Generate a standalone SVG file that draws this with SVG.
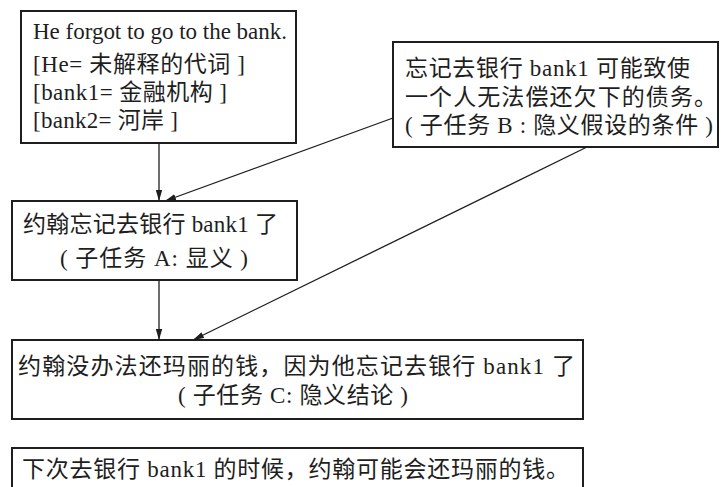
<svg xmlns="http://www.w3.org/2000/svg" width="721" height="487" viewBox="0 0 721 487">
  <style>
    .box { fill: #ffffff; stroke: #1e1e1e; stroke-width: 2; }
    .t { font-family: "Liberation Serif", "Noto Sans CJK SC", serif; font-size: 23px; fill: #1e1e1e; }
    .conn { stroke: #1e1e1e; stroke-width: 1.3; fill: none; marker-end: url(#arrow); }
  </style>
  <defs>
    <marker id="arrow" markerUnits="userSpaceOnUse" markerWidth="12" markerHeight="8" refX="11" refY="4" orient="auto">
      <path d="M0,0.8 L11,4 L0,7.2 z" fill="#1e1e1e"/>
    </marker>
  </defs>
  <rect width="721" height="487" fill="#ffffff"/>

  <g id="node-sentence">
    <rect class="box" x="21" y="11" width="275" height="132"/>
    <text class="t" x="33" y="39" textLength="254" lengthAdjust="spacing">He forgot to go to the bank.</text>
    <text class="t" x="33" y="72" textLength="212" lengthAdjust="spacing">[He= 未解释的代词 ]</text>
    <text class="t" x="33" y="100" textLength="194" lengthAdjust="spacing">[bank1= 金融机构 ]</text>
    <text class="t" x="33" y="128" textLength="145" lengthAdjust="spacing">[bank2= 河岸 ]</text>
  </g>

  <g id="node-subtask-b">
    <rect class="box" x="393" y="42" width="325" height="105"/>
    <text class="t" x="405" y="76" textLength="285" lengthAdjust="spacing">忘记去银行 bank1 可能致使</text>
    <text class="t" x="405" y="105" textLength="312" lengthAdjust="spacing">一个人无法偿还欠下的债务。</text>
    <text class="t" x="405" y="133" textLength="308" lengthAdjust="spacing">( 子任务 B : 隐义假设的条件 )</text>
  </g>

  <g id="node-subtask-a">
    <rect class="box" x="12" y="201" width="285" height="79"/>
    <text class="t" x="23" y="232" textLength="255" lengthAdjust="spacing">约翰忘记去银行 bank1 了</text>
    <text class="t" x="60" y="266" textLength="188" lengthAdjust="spacing">( 子任务 A: 显义 )</text>
  </g>

  <g id="node-subtask-c">
    <rect class="box" x="12" y="340" width="571" height="79"/>
    <text class="t" x="18" y="374" textLength="557" lengthAdjust="spacing">约翰没办法还玛丽的钱，因为他忘记去银行 bank1 了</text>
    <text class="t" x="178" y="403" textLength="230" lengthAdjust="spacing">( 子任务 C: 隐义结论 )</text>
  </g>

  <g id="node-next">
    <rect class="box" x="12" y="448" width="571" height="50"/>
    <text class="t" x="22" y="477" textLength="547" lengthAdjust="spacing">下次去银行 bank1 的时候，约翰可能会还玛丽的钱。</text>
  </g>

  <g id="connectors">
    <line class="conn" x1="159" y1="143" x2="159" y2="201"/>
    <line class="conn" x1="393" y1="118" x2="165" y2="201"/>
    <line class="conn" x1="159" y1="280" x2="159" y2="340"/>
    <line class="conn" x1="587" y1="147" x2="193" y2="340"/>
  </g>
</svg>
